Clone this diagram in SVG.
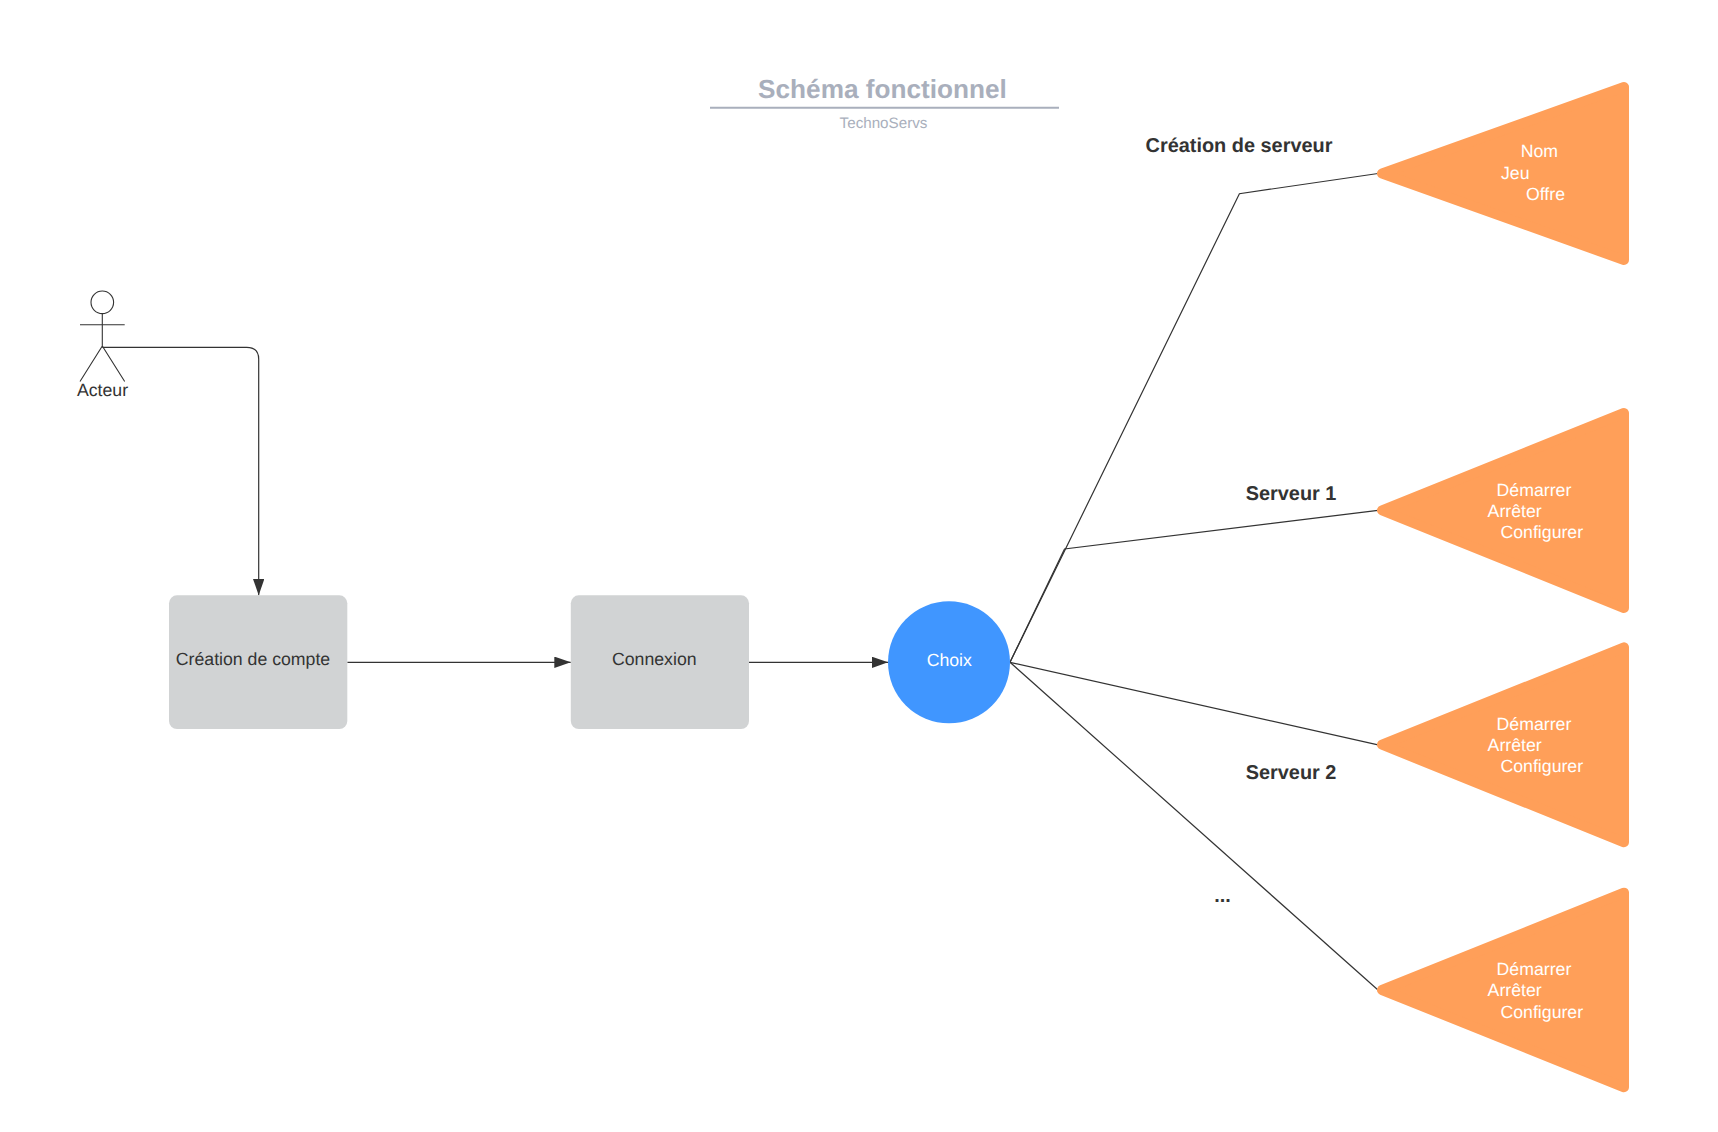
<svg xmlns="http://www.w3.org/2000/svg" width="1718" height="1132" viewBox="0 0 1718 1132">
<style>
text{font-family:"Liberation Sans",Arial,sans-serif;font-size:17.7px;fill:#333;text-rendering:geometricPrecision}
.w{fill:#fff}
.b{font-weight:700;font-size:19.9px}
.m{text-anchor:middle}
.tri{fill:#ff9f59;stroke:#ff9f59;stroke-width:10;stroke-linejoin:round}
.box{fill:#d1d3d4}
.ln{fill:none;stroke:#333;stroke-width:1.2}
.ac{fill:none;stroke:#333;stroke-width:1.1}
</style>
<defs>
<marker id="arrow" markerUnits="userSpaceOnUse" markerWidth="17" markerHeight="12" refX="16.5" refY="5.75" orient="auto"><path d="M0 0L16.5 5.75L0 11.5Z" fill="#333"/></marker>
</defs>
<rect width="1718" height="1132" fill="#fff"/>
<g id="title">
<text class="m" x="882.5" y="98" style="font-size:26.2px;font-weight:700;fill:#a9afbc">Schéma fonctionnel</text>
<line x1="710" y1="107.7" x2="1059" y2="107.7" stroke="#a9afbc" stroke-width="2"/>
<text class="m" x="883.5" y="128" style="font-size:15.2px;fill:#a9afbc">TechnoServs</text>
</g>
<g id="connectors">
<path class="ln" marker-end="url(#arrow)" d="M102.3 347.3H246.7Q258.7 347.3 258.7 359.3V595.3"/>
<path class="ln" marker-end="url(#arrow)" d="M347.3 662.3H570.8"/>
<path class="ln" marker-end="url(#arrow)" d="M749 662.3H888"/>
<path class="ln" d="M1010 662.3L1239.4 193.7L1378 173.5"/>
<path class="ln" d="M1010 662.3L1064.5 549L1378 510.4"/>
<path class="ln" d="M1010 662.3L1378 744.9"/>
<path class="ln" d="M1010 662.3L1378 990"/>
</g>
<g id="actor">
<circle class="ac" cx="102.3" cy="302.3" r="11.3"/>
<path class="ac" d="M102.3 313.6V346M80 324.7H124.7M80 381.5L102.3 346L124.7 381.5"/>
<text class="m" x="102.5" y="396">Acteur</text>
</g>
<g id="creation-compte">
<rect class="box" x="169" y="595.3" width="178.3" height="133.7" rx="8"/>
<text x="175.8" y="664.5">Création de compte</text>
</g>
<g id="connexion">
<rect class="box" x="570.8" y="595.3" width="178.2" height="133.7" rx="8"/>
<text x="612" y="664.5">Connexion</text>
</g>
<g id="choix">
<circle cx="949" cy="662.3" r="61" fill="#4096ff"/>
<text class="w m" x="949.3" y="666">Choix</text>
</g>
<g id="tri-creation">
<path class="tri" d="M1382 173.5L1624 87V260Z"/>
<text class="w" x="1520.7" y="157">Nom</text>
<text class="w" x="1501" y="178.5">Jeu</text>
<text class="w" x="1526" y="199.5">Offre</text>
</g>
<g id="tri-serveur1">
<path class="tri" d="M1382 510.4L1624 413V608Z"/>
<text class="w" x="1496.6" y="495.7">Démarrer</text>
<text class="w" x="1487.6" y="516.7">Arrêter</text>
<text class="w" x="1500.5" y="538">Configurer</text>
</g>
<g id="tri-serveur2">
<path class="tri" d="M1382 744.7L1624 647.3V842.3Z"/>
<text class="w" x="1496.6" y="729.7">Démarrer</text>
<text class="w" x="1487.6" y="750.7">Arrêter</text>
<text class="w" x="1500.5" y="772.2">Configurer</text>
</g>
<g id="tri-serveur3">
<path class="tri" d="M1382 990L1624 892.7V1087.3Z"/>
<text class="w" x="1496.6" y="974.8">Démarrer</text>
<text class="w" x="1487.6" y="996">Arrêter</text>
<text class="w" x="1500.5" y="1017.6">Configurer</text>
</g>
<g id="labels">
<text class="b" x="1145.6" y="152.3">Création de serveur</text>
<text class="b" x="1245.7" y="500">Serveur 1</text>
<text class="b" x="1245.7" y="779">Serveur 2</text>
<text class="b" x="1214.3" y="901.7">...</text>
</g>
</svg>
